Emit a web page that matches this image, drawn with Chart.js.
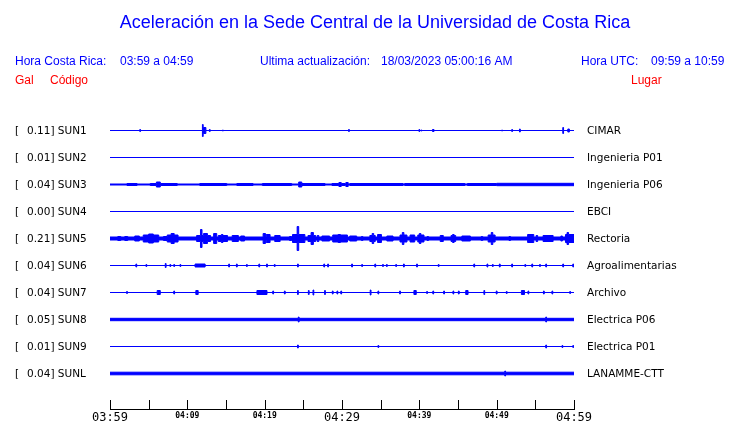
<!DOCTYPE html>
<html>
<head>
<meta charset="utf-8">
<style>
  html, body { margin: 0; padding: 0; background: #fff; }
  #wrap { width: 740px; height: 423px; }
</style>
</head>
<body>
<div id="wrap"><canvas id="sismos"></canvas></div>

<script src="https://cdn.jsdelivr.net/npm/chart.js"></script>
<script>
// minutos desde 03:59 (hora de Costa Rica)
const tickLabels = ['03:59', '04:09', '04:19', '04:29', '04:39', '04:49', '04:59'];
const codes = ['SUN1', 'SUN2', 'SUN3', 'SUN4', 'SUN5', 'SUN6', 'SUN7', 'SUN8', 'SUN9', 'SUNL'];
const places = ['CIMAR', 'Ingenieria P01', 'Ingenieria P06', 'EBCI', 'Rectoria',
                'Agroalimentarias', 'Archivo', 'Electrica P06', 'Electrica P01', 'LANAMME-CTT'];
const peakGal = [0.11, 0.01, 0.04, 0.00, 0.21, 0.04, 0.04, 0.05, 0.01, 0.04];
// ruido de fondo de cada traza
const baseAmp = [0, 0, 0.5, 0, 1.5, 0, 0, 1.2, 0, 1.3];

// eventos: [minuto, amplitud] o [inicio, fin, amplitud]
const sun1Bursts = [[3.9, 1], [12.0, 6], [12.1, 12.4, 3], [12.9, 1], [14.6, 0.5], [30.9, 1],
  [40.0, 1], [40.3, 0.5], [41.7, 41.9, 1], [50.7, 0.5], [52.0, 1], [53.0, 1.5], [58.6, 3], [59.2, 59.4, 1.5]];
const sun2Bursts = [];
const sun3Bursts = [[2.2, 3.5, 1], [5.2, 8.7, 1], [6.0, 6.5, 2.5], [11.6, 15.1, 1], [16.4, 18.5, 1],
  [19.7, 23.5, 1], [24.4, 24.8, 2.5], [24.8, 27.8, 1], [28.7, 30.4, 1], [29.6, 29.9, 2], [30.5, 30.8, 2],
  [31.0, 37.9, 1], [38.1, 45.9, 1], [46.2, 50.0, 1], [50.0, 60, 1.2]];
const sun4Bursts = [];
const sun5Bursts = [[1.0, 1.4, 2], [1.9, 2.3, 2], [3.2, 3.8, 2.5], [4.3, 6.3, 3.5], [5.0, 5.6, 4.5],
  [6.9, 7.5, 2], [7.4, 8.8, 3.5], [7.9, 8.3, 5], [11.2, 13.0, 3], [11.7, 11.9, 9], [12.1, 12.6, 5],
  [13.4, 13.8, 5], [14.0, 15.2, 3], [14.4, 14.6, 4], [15.8, 16.6, 3], [16.9, 17.4, 2.5], [19.8, 20.1, 5],
  [20.2, 20.7, 4], [21.3, 22.0, 3], [23.2, 23.5, 2], [23.6, 25.2, 4], [24.2, 24.4, 12], [25.6, 26.6, 3],
  [26.0, 26.3, 6], [26.8, 27.0, 3], [27.4, 28.4, 2.5], [28.8, 30.7, 3.5], [29.5, 29.8, 4], [31.0, 31.9, 2.5],
  [32.5, 32.7, 2], [33.6, 34.3, 3], [33.9, 34.1, 5], [34.6, 35.1, 4], [35.8, 36.6, 2.5], [37.5, 38.4, 3.5],
  [37.8, 38.0, 6], [38.8, 39.4, 3.5], [39.8, 40.6, 3.5], [40.0, 40.2, 5], [41.0, 41.2, 2], [42.7, 43.1, 3],
  [44.1, 44.7, 3], [44.3, 44.5, 4], [45.5, 46.6, 2.5], [48.0, 48.2, 2], [48.9, 49.8, 3.5], [49.3, 49.5, 6],
  [51.6, 51.8, 2], [54.0, 54.8, 4], [55.1, 55.3, 3], [56.0, 57.3, 3], [58.3, 58.5, 2.5], [58.9, 60, 4],
  [59.1, 59.3, 6]];
const sun6Bursts = [[3.4, 1.5], [4.7, 1], [7.2, 2], [7.8, 1], [8.3, 1], [9.1, 1], [11.0, 12.3, 1.5],
  [15.4, 1.5], [16.4, 1.5], [17.7, 1], [19.3, 1.5], [20.3, 1.5], [21.3, 1], [24.3, 1.5], [27.7, 1.5],
  [28.2, 1.5], [31.3, 1.5], [32.6, 1], [34.3, 1.5], [35.3, 1], [35.8, 1], [37.0, 1], [38.0, 1.5],
  [39.7, 1.5], [42.5, 1], [47.1, 1.5], [48.8, 1.5], [49.5, 1], [50.4, 1.5], [52.0, 1.5], [53.7, 1],
  [54.6, 1.5], [55.6, 1], [56.4, 1.5], [58.6, 1.5], [59.9, 1.5]];
const sun7Bursts = [[2.2, 1], [6.1, 6.5, 2], [8.3, 1.5], [11.1, 11.4, 2], [19.0, 20.3, 2], [21.1, 1.5],
  [22.6, 1.5], [24.3, 2], [25.7, 2], [26.3, 2.5], [27.8, 2], [28.8, 1.5], [29.4, 1.5], [29.9, 1.5],
  [33.7, 2.5], [34.7, 1.5], [37.5, 1.5], [39.3, 39.6, 2], [41.0, 1], [41.8, 1.5], [43.2, 1.5], [44.4, 1.5],
  [45.1, 1.5], [46.0, 46.3, 2], [48.4, 2], [50.0, 1.5], [51.3, 1], [53.2, 53.6, 2], [54.1, 1.5],
  [56.1, 1.5], [57.2, 1.5], [59.5, 1]];
const sun8Bursts = [[24.4, 2.5], [56.4, 2.5]];
const sun9Bursts = [[24.3, 1.5], [34.7, 1], [56.4, 1.5], [58.5, 1], [59.9, 1]];
const sunLBursts = [[51.1, 2.5]];

const allBursts = [sun1Bursts, sun2Bursts, sun3Bursts, sun4Bursts, sun5Bursts,
                   sun6Bursts, sun7Bursts, sun8Bursts, sun9Bursts, sunLBursts];

const BLUE = '#0000ff';
const ROW_PX = 27;

function envelope(base, bursts) {
  const spans = bursts.map(b => b.length === 2 ? [b[0] - 0.05, b[0] + 0.05, b[1]] : b);
  const cuts = new Set([0, 60]);
  spans.forEach(s => { cuts.add(s[0]); cuts.add(s[1]); });
  const xs = [...cuts].sort((a, b) => a - b);
  const out = [];
  xs.forEach((x, i) => {
    const next = xs[i + 1];
    let a = base;
    if (next === undefined) {
      a = out.length ? out[out.length - 1].a : base;
    } else {
      spans.forEach(s => { if (s[0] <= x && s[1] >= next) a = Math.max(a, s[2]); });
    }
    out.push({ x, a });
  });
  return out;
}

const datasets = [];
codes.forEach((code, i) => {
  const row = i + 1;
  const env = envelope(baseAmp[i], allBursts[i]);
  const common = { borderColor: BLUE, backgroundColor: BLUE, borderWidth: 1, stepped: true, pointRadius: 0 };
  datasets.push(Object.assign({ label: code, data: env.map(p => ({ x: p.x, y: row - p.a / ROW_PX })), fill: '+1' }, common));
  datasets.push(Object.assign({ label: code + '-', data: env.map(p => ({ x: p.x, y: row + p.a / ROW_PX })), fill: false }, common));
});

const textPlugin = {
  id: 'textos',
  afterDraw(chart) {
    const ctx = chart.ctx;
    const xs = chart.scales.x, ys = chart.scales.y;
    const area = chart.chartArea;
    ctx.save();
    // marcas del eje hacia arriba
    ctx.strokeStyle = '#000';
    ctx.lineWidth = 1;
    xs.ticks.forEach(t => {
      const px = Math.round(xs.getPixelForValue(t.value)) + 0.5;
      ctx.beginPath();
      ctx.moveTo(px, area.bottom);
      ctx.lineTo(px, area.bottom - 9);
      ctx.stroke();
    });

    ctx.fillStyle = BLUE;
    ctx.textAlign = 'center';
    ctx.textBaseline = 'alphabetic';
    ctx.font = '18px "Liberation Sans", Arial, sans-serif';
    ctx.fillText('Aceleración en la Sede Central de la Universidad de Costa Rica', 375, 28);

    ctx.textAlign = 'left';
    ctx.font = '12px "Liberation Sans", Arial, sans-serif';
    ctx.fillText('Hora Costa Rica:', 15, 65);
    ctx.fillText('03:59 a 04:59', 120, 65);
    ctx.fillText('Ultima actualización:', 260, 65);
    ctx.fillText('18/03/2023 05:00:16 AM', 381, 65);
    ctx.fillText('Hora UTC:', 581, 65);
    ctx.fillText('09:59 a 10:59', 651, 65);
    ctx.fillStyle = '#ff0000';
    ctx.fillText('Gal', 15, 84);
    ctx.fillText('Código', 50, 84);
    ctx.fillText('Lugar', 631, 84);

    ctx.fillStyle = '#000';
    ctx.textBaseline = 'middle';
    ctx.font = '10.5px "DejaVu Sans", sans-serif';
    codes.forEach((code, i) => {
      const py = ys.getPixelForValue(i + 1) + 0.5;
      ctx.fillText('[', 15, py);
      ctx.fillText(peakGal[i].toFixed(2) + '] ' + code, 27, py);
      ctx.fillText(places[i], area.right + 13, py);
    });
    ctx.restore();
  }
};

new Chart(document.getElementById('sismos'), {
  type: 'line',
  data: { datasets: datasets },
  options: {
    responsive: true,
    maintainAspectRatio: false,
    animation: false,
    layout: { padding: { left: 110, right: 166, top: 103, bottom: 0 } },
    plugins: { legend: { display: false }, tooltip: { enabled: false } },
    elements: { line: { tension: 0 } },
    scales: {
      x: {
        type: 'linear',
        min: 0,
        max: 60,
        offset: false,
        afterFit: s => { s.height = 14; },
        border: { display: true, color: '#000', width: 1 },
        grid: { display: false, drawTicks: false },
        ticks: {
          stepSize: 5,
          padding: 2,
          color: '#000',
          autoSkip: false,
          maxRotation: 0,
          callback: v => (v % 10 === 0 ? tickLabels[v / 10] : ''),
          font: c => (c.tick && c.tick.value % 30 === 0)
            ? { family: 'DejaVu Sans Mono', size: 12 }
            : { family: 'DejaVu Sans Mono', size: 8, weight: 'bold' }
        }
      },
      y: {
        type: 'linear',
        display: false,
        reverse: true,
        min: 1 - 27.5 / ROW_PX,
        max: 1 - 27.5 / ROW_PX + 306 / ROW_PX
      }
    }
  },
  plugins: [textPlugin]
});
</script>
</body>
</html>
